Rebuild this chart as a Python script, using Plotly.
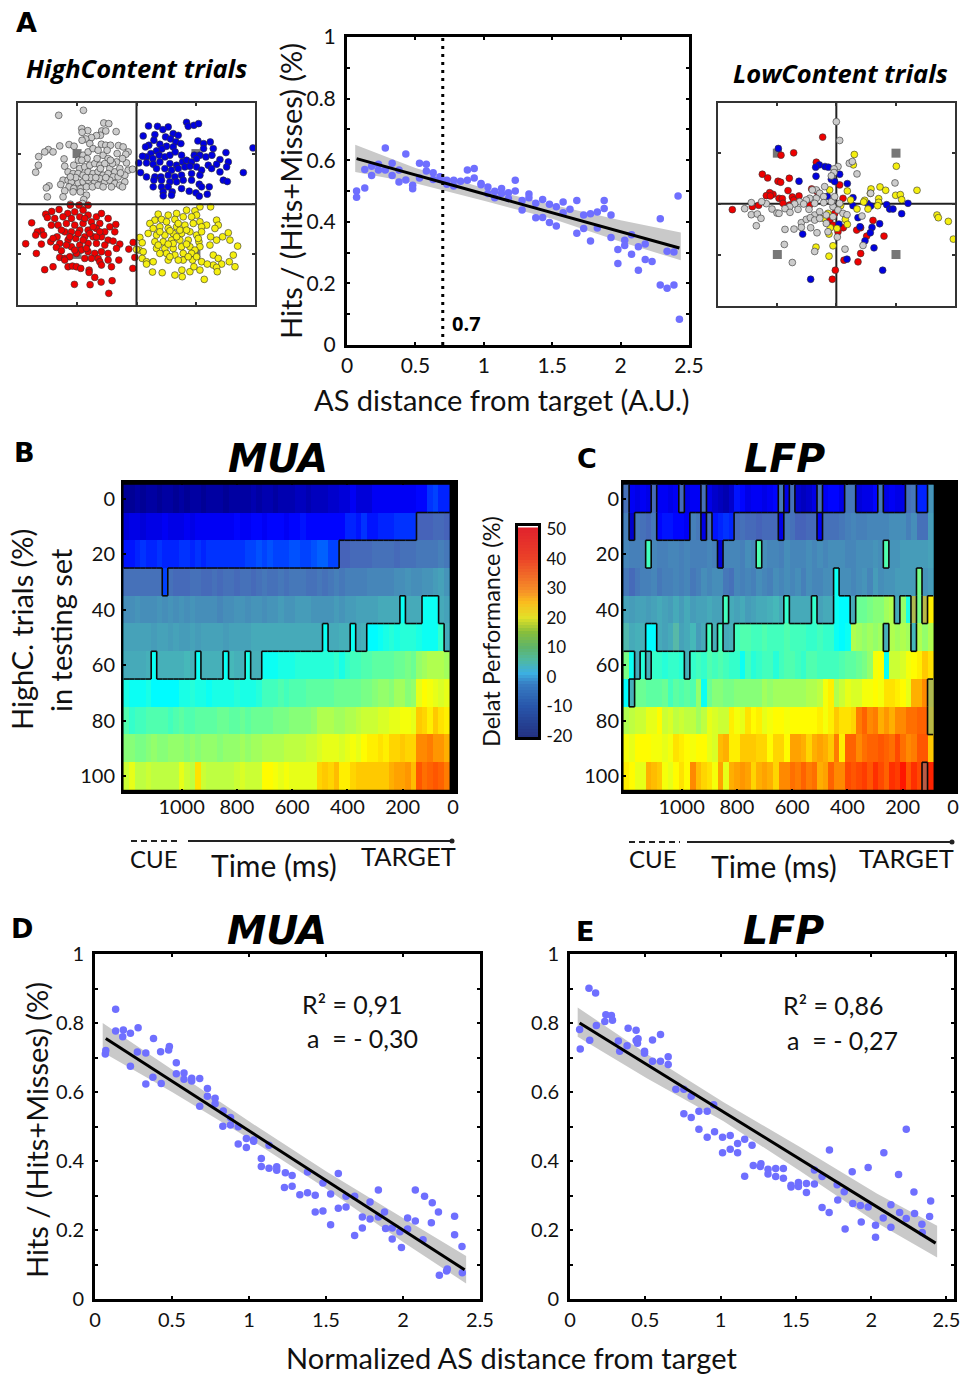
import plotly.graph_objects as go

W, H = 968, 1375
FONT = "Lato"
BLUE = "#6f6fff"
BAND = "#c9c9c9"

# ---------- panel A, cloud of points (arbitrary state-space units, cross at 410 / 492) ----------
high_gray_x = [251,177,312,327,246,264,247,306,349,318,302,290,275,258,247,270,305,318,332,356,370,180,208,223,146,160,135,117,116,108,193,195,222,236,250,265,280,295,310,325,352,385,378,350,380,240,255,270,285,300,315,330,345,360,385,398,205,220,235,250,265,280,295,310,325,340,355,375,190,205,215,235,250,265,285,300,315,330,345,360,375,183,148,140,208,222,243,260,278,295,310,335,195,190,143,220,260,252,248,212,262,292,322,338,368,228,302,332,272,212,362,318,288,246,368,242,258]
high_gray_y = [210,225,248,250,265,271,276,272,274,272,285,286,292,296,300,310,312,315,315,316,320,317,313,318,328,335,335,349,375,396,356,378,375,360,345,335,325,330,345,355,340,335,342,365,368,385,380,375,370,375,370,385,395,385,390,387,395,400,400,405,395,400,395,405,400,410,410,405,420,420,425,428,425,420,425,415,425,420,430,435,425,433,437,443,440,445,445,440,440,435,440,440,452,470,470,455,465,478,490,492,355,355,330,370,355,412,385,360,412,410,398,412,412,360,440,455,412]
high_blue_x = [560,565,582,596,446,473,505,489,430,465,520,535,497,512,528,462,447,437,480,500,520,543,594,611,631,611,640,678,759,486,470,453,440,428,459,478,495,510,526,545,583,600,618,636,660,685,650,680,417,440,460,480,510,530,548,560,575,590,625,422,440,465,470,495,515,535,555,570,590,605,635,660,730,483,505,525,545,575,600,670,682,462,460,485,510,530,550,575,628,598,605,485,505,490,517,490,515,568,588,598,622,545]
high_blue_y = [246,258,255,250,257,258,260,268,287,283,280,285,290,296,305,300,315,320,312,318,320,310,302,310,305,325,325,337,323,326,332,340,350,348,355,345,350,345,335,345,345,345,350,345,358,365,372,380,368,368,372,365,370,375,365,360,365,355,375,397,410,410,385,385,390,385,380,378,380,390,385,395,397,410,405,410,405,400,405,420,424,420,440,420,425,425,420,420,440,432,440,440,440,455,455,467,465,453,458,468,462,445]
high_red_x = [212,238,265,178,156,138,204,225,250,96,143,165,190,215,240,265,290,305,325,125,113,132,108,155,175,200,225,250,275,300,348,330,345,78,125,110,153,172,195,215,240,265,290,315,180,205,228,255,280,305,325,340,360,170,185,215,240,265,290,315,350,387,400,405,180,195,210,265,285,305,325,195,357,255,275,295,300,135,160,205,218,230,243,268,268,305,335,399,285,337,224,271,304,327,245,260,230,250,160,290,325,185,210,235,255,280,200,225,270,300]
high_red_y = [495,495,495,508,514,522,520,515,510,548,532,535,530,535,530,525,530,520,535,572,575,585,585,555,555,550,555,550,545,550,553,560,575,611,612,640,605,590,575,575,570,570,565,575,610,600,595,590,590,590,600,603,612,622,632,620,615,610,610,615,625,627,607,652,652,655,650,635,640,635,640,660,660,655,655,655,665,689,680,680,678,680,685,690,697,675,680,685,712,722,733,734,726,760,630,625,640,600,595,590,660,570,590,580,535,560,615,630,580,575]
high_yellow_x = [600,632,475,505,530,560,585,590,465,485,500,525,550,575,600,620,650,655,450,460,480,505,530,555,580,605,645,668,685,445,420,470,495,520,545,570,590,605,690,427,465,490,515,540,565,632,650,630,597,600,713,700,418,430,470,495,520,545,570,585,640,655,427,440,460,500,525,550,575,640,665,688,705,440,505,550,578,605,650,652,622,600,458,487,525,547,570,546,582,613,410,540,520,480,510,535,560,595,475,505,530,560,480,510,535,565,590]
high_yellow_y = [500,500,522,525,520,510,512,525,540,538,545,538,530,530,545,555,540,555,550,565,560,565,560,555,550,560,565,590,578,580,592,585,585,580,580,575,585,575,600,608,605,605,600,600,600,590,600,615,605,620,618,645,630,635,625,625,625,620,620,630,645,655,655,665,665,640,645,640,640,675,672,665,680,672,660,660,660,665,682,695,672,690,696,698,705,710,695,690,680,718,628,570,610,575,572,550,570,595,615,612,590,612,640,650,660,650,650]
high_target_x = [232,588,232,588]
high_target_y = [340,340,643,643]

low_red_x = [369,282,244,350,188,204,235,243,269,265,220,210,200,212,238,248,250,278,282,298,158,177,98,352,420,430,405,390,400,431,415,471,483,520,501,553,483,475,433,407,398,330,270,336]
low_red_y = [262,309,316,337,373,384,394,397,385,422,433,428,437,438,445,446,460,441,450,438,470,466,479,425,405,445,490,510,525,533,545,540,533,511,558,558,610,635,630,660,687,465,465,417]
low_blue_x = [236,359,348,376,386,349,298,395,420,405,443,383,460,460,503,513,561,570,580,625,606,475,540,481,517,512,496,523,418,309,442,549,333]
low_blue_y = [296,345,352,350,352,379,394,388,373,395,401,439,443,467,460,468,464,477,477,460,491,503,521,530,532,548,572,593,522,552,627,660,687]
low_yellow_x = [464,461,590,514,541,558,512,652,588,602,606,537,537,534,495,492,443,390,453,423,472,505,712,716,746,761,372,385,437,443,392,388,349,400,388,412]
low_yellow_y = [314,345,349,417,411,421,430,421,436,434,449,446,457,467,451,456,423,420,450,467,477,477,495,503,514,567,505,490,508,523,533,552,591,587,618,535]
low_gray_x = [410,420,449,458,415,403,403,472,395,586,513,375,350,338,360,372,350,330,320,300,285,270,256,217,200,186,155,135,155,173,184,170,232,238,271,295,312,328,345,360,380,400,415,430,442,420,395,372,345,305,320,332,345,305,283,256,333,352,385,413,487,254,278,345,436,490,405,400,360,380]
low_gray_y = [216,272,340,335,350,357,368,372,378,399,430,410,420,420,430,440,445,445,450,455,462,470,476,477,461,455,458,476,494,492,505,527,489,490,487,478,462,478,495,485,495,470,480,490,494,460,455,458,460,518,508,503,510,532,537,538,533,548,545,561,498,583,637,604,597,586,440,500,505,520]
low_target_x = [233,589,233,589]
low_target_y = [310,310,613,613]

# ---------- panel A, psychometric scatter ----------
a_x = [.07,.07,.13,.13,.18,.18,.23,.23,.28,.28,.33,.33,.38,.38,.43,.43,.48,.48,.53,.53,.58,.58,.63,.63,.68,.68,.73,.73,.78,.78,.83,.88,.88,.93,.93,.98,.98,1.03,1.03,1.08,1.08,1.13,1.13,1.18,1.18,1.23,1.23,1.28,1.28,1.33,1.33,1.38,1.38,1.43,1.43,1.48,1.48,1.53,1.53,1.58,1.58,1.63,1.68,1.68,1.73,1.73,1.78,1.78,1.83,1.83,1.88,1.88,1.93,1.93,1.98,1.98,2.03,2.03,2.08,2.08,2.13,2.13,2.18,2.18,2.23,2.29,2.29,2.34,2.34,2.39,2.39,2.42,2.43]
a_y = [.50,.48,.57,.51,.58,.55,.587,.568,.64,.568,.59,.55,.568,.529,.62,.536,.519,.507,.59,.542,.565,.587,.559,.537,.546,.537,.535,.522,.535,.516,.532,.568,.535,.573,.542,.524,.52,.513,.492,.499,.478,.508,.492,.494,.476,.535,.50,.469,.438,.49,.478,.46,.413,.472,.414,.457,.398,.449,.386,.464,.429,.441,.469,.363,.422,.378,.426,.338,.432,.38,.469,.443,.422,.349,.31,.265,.34,.323,.358,.295,.319,.243,.328,.278,.271,.41,.195,.304,.184,.302,.195,.484,.084]
a_fit_x = [.07,2.43]
a_fit_y = [.605,.315]
a_band_x = [.06,.5,1,1.5,2,2.44]
a_band_hi = [.65,.575,.51,.455,.405,.365]
a_band_lo = [.562,.525,.468,.41,.335,.275]
a_threshold = 0.7

# ---------- panel D ----------
d_x = [.067,.07,.134,.134,.184,.18,.23,.23,.28,.275,.33,.33,.38,.376,.426,.43,.478,.483,.528,.528,.578,.578,.628,.628,.68,.68,.73,.73,.78,.78,.83,.833,.88,.88,.93,.93,.983,.983,1.03,1.03,1.08,1.08,1.13,1.13,1.18,1.18,1.23,1.236,1.28,1.28,1.33,1.38,1.38,1.43,1.43,1.48,1.48,1.53,1.53,1.58,1.58,1.63,1.63,1.686,1.686,1.736,1.736,1.786,1.786,1.84,1.84,1.88,1.887,1.93,1.93,1.98,1.99,2.03,2.03,2.08,2.08,2.13,2.14,2.184,2.19,2.23,2.236,2.283,2.288,2.335,2.335,2.383,2.385]
d_y = [.71,.72,.84,.777,.78,.76,.77,.675,.786,.716,.713,.623,.755,.643,.717,.625,.722,.732,.685,.653,.655,.637,.64,.632,.639,.559,.61,.588,.582,.566,.501,.545,.504,.526,.499,.449,.465,.439,.461,.457,.407,.384,.446,.379,.383,.373,.323,.366,.358,.327,.302,.368,.308,.301,.252,.336,.255,.304,.215,.364,.263,.298,.267,.298,.184,.238,.206,.281,.232,.316,.238,.252,.204,.206,.174,.195,.149,.235,.203,.316,.226,.172,.298,.221,.279,.252,.069,.081,.087,.24,.186,.152,.076]
d_fit_x = [.07,2.4]
d_fit_y = [.755,.085]
d_band_x = [.05,.5,1,1.5,2,2.41]
d_band_hi = [.80,.665,.515,.37,.235,.125]
d_band_lo = [.715,.60,.465,.32,.165,.045]

# ---------- panel E ----------
e_x = [.064,.068,.126,.131,.17,.175,.231,.238,.275,.282,.321,.33,.379,.386,.439,.439,.448,.452,.495,.495,.548,.548,.601,.601,.652,.652,.703,.756,.756,.805,.805,.856,.856,.911,.911,.954,.96,1.013,1.013,1.064,1.064,1.113,1.113,1.16,1.16,1.209,1.217,1.264,1.268,1.315,1.315,1.366,1.366,1.417,1.417,1.468,1.468,1.517,1.517,1.57,1.57,1.623,1.623,1.674,1.674,1.723,1.721,1.774,1.778,1.821,1.827,1.874,1.878,1.929,1.934,1.98,1.98,2.029,2.029,2.084,2.08,2.131,2.131,2.182,2.189,2.233,2.233,2.284,2.288,2.337,2.339,2.388,2.395]
e_y = [.781,.725,.901,.75,.887,.793,.804,.824,.822,.808,.748,.718,.734,.785,.779,.749,.741,.754,.718,.712,.751,.689,.767,.689,.702,.68,.608,.608,.537,.588,.526,.544,.492,.544,.469,.563,.485,.469,.424,.474,.434,.451,.424,.463,.356,.446,.387,.384,.392,.376,.362,.378,.355,.378,.35,.33,.325,.338,.326,.335,.309,.374,.333,.355,.265,.432,.251,.331,.287,.311,.203,.369,.277,.271,.223,.381,.267,.214,.179,.424,.235,.273,.208,.361,.251,.492,.233,.31,.248,.217,.193,.239,.284]
e_fit_x = [.064,2.428]
e_fit_y = [.80,.162]
e_band_x = [.051,.51,1.02,1.53,2.04,2.438]
e_band_hi = [.845,.71,.57,.44,.305,.212]
e_band_lo = [.76,.64,.515,.37,.22,.12]

# ---------- heatmaps ----------
pct_rows = [0,10,20,30,40,50,60,70,80,90,100]
mua_time = [1200 - 20*i for i in range(59)]
lfp_time = [1200 - 20*i for i in range(56)]

mua_values = [
 [-19,-19,-18,-19,-18,-18,-19,-18,-18,-19,-18,-19,-18,-18,-19,-18,-18,-18,-19,-18,-18,-18,-18,-17,-18,-17,-17,-18,-17,-17,-17,-16,-16,-17,-16,-16,-16,-15,-15,-14,-14,-12,-14,-14,-14,-12,-12,-12,-12,-12,-12,-12,-12,-11,-11,-8,-7,-9,-9],
 [-14,-13,-13,-14,-13,-13,-13,-12,-13,-13,-13,-12,-13,-12,-12,-12,-12,-12,-12,-12,-11,-12,-12,-11,-11,-12,-11,-11,-11,-12,-11,-11,-10,-11,-11,-11,-11,-11,-11,-11,-9,-9,-10,-8,-10,-10,-9,-9,-9,-8,-8,-8,-8,-7,-7,-7,-6,-6,-7],
 [-10,-10,-9,-8,-9,-9,-8,-9,-9,-9,-8,-8,-9,-8,-9,-8,-8,-8,-8,-8,-8,-8,-7,-7,-6,-7,-6,-7,-7,-7,-6,-6,-7,-7,-6,-5,-5,-7,-7,-7,-7,-6,-6,-6,-6,-5,-5,-5,-5,-6,-5,-5,-5,-4,-4,-4,-4,-3,-4],
 [-5,-5,-5,-5,-5,-5,-5,-7,-5,-6,-6,-6,-5,-5,-6,-6,-5,-6,-5,-5,-6,-5,-5,-6,-5,-4,-5,-5,-4,-5,-4,-4,-4,-5,-5,-4,-5,-4,-3,-4,-3,-3,-3,-3,-2,-2,-2,-2,-2,-1,-1,0,-1,-1,0,0,1,2,0],
 [-1,-1,0,-1,-1,-1,0,-1,0,-1,0,-1,0,-1,-1,-1,-1,-2,-1,-1,0,0,-1,0,0,-1,0,0,1,0,0,1,1,1,0,0,0,0,1,0,1,1,2,2,2,2,3,3,3,3,6,3,3,3,6,6,6,3,2],
 [2,2,2,2,2,1,2,2,1,2,1,1,2,1,2,2,2,2,1,2,2,2,2,3,3,3,3,3,3,3,3,3,3,3,3,3,6,3,3,4,4,6,3,4,5,5,6,7,8,7,8,8,8,7,6,6,6,9,3],
 [3,3,3,3,4,6,4,4,4,4,4,5,4,6,4,4,4,4,6,5,4,4,7,4,4,6,6,6,7,7,7,8,8,8,8,8,8,8,9,7,9,10,10,11,11,12,12,12,12,13,13,14,13,16,17,18,18,18,17],
 [7,6,6,6,7,5,5,5,5,5,7,7,8,7,7,6,7,7,7,7,8,7,7,7,8,10,10,10,11,10,11,11,11,12,12,12,12,12,13,13,13,13,13,14,14,15,16,16,15,17,17,15,16,22,24,23,22,21,22],
 [11,9,10,10,11,11,11,11,10,11,12,11,11,12,12,12,12,13,13,12,12,13,12,13,13,13,13,14,14,14,15,15,15,15,16,18,18,18,17,17,18,18,19,20,20,20,21,21,22,22,23,23,22,28,27,25,28,26,25],
 [15,15,14,14,15,16,15,15,16,16,16,15,16,15,16,16,16,15,16,16,16,17,16,17,17,18,18,18,18,19,19,19,19,20,20,21,22,22,22,21,22,23,22,24,25,25,26,25,27,27,28,27,27,33,33,34,32,32,30],
 [20,22,19,19,20,19,19,19,19,19,22,20,19,26,20,19,19,19,19,19,20,21,20,20,20,24,24,23,22,23,22,22,22,22,22,27,28,27,29,25,25,27,28,28,28,28,28,28,30,31,31,32,29,37,35,36,37,36,34],
]
# non-significant (washed out) cells per row, as inclusive column spans
mua_ns_spans = [
 [],
 [(53,58)],
 [(39,58)],
 [(0,6),(8,58)],
 [(0,49),(51,53),(57,58)],
 [(0,35),(37,40),(42,43),(58,58)],
 [(0,4),(6,12),(14,17),(19,21),(23,24)],
 [], [], [], [],
]

lfp_values = [
 [-5,-12,-13,-12,-13,-6,-12,-12,-13,-12,-6,-13,-12,-12,-5,-13,-15,-16,-17,-15,-10,-11,-13,-12,-12,-13,-12,-11,-4,-13,-5,-15,-16,-15,-13,-5,-12,-11,-11,-13,-4,-4,-14,-13,-13,-11,-4,-13,-12,-13,-13,-5,-4,-9,-9,0],
 [-3,-15,-4,-5,-6,-4,-11,-10,-10,-11,-11,-12,-3,-4,-13,-5,-10,-9,-8,-9,-6,-5,-6,-6,-7,-6,-6,-6,-13,-4,-5,-7,-7,-6,-6,-12,-5,-5,-5,-4,-3,-2,-3,-3,-2,-2,-2,-2,-1,-1,-1,-3,-1,-5,-5,1],
 [-2,-3,-3,-3,10,-2,-3,-3,-2,-2,-3,-2,-3,-3,-3,-2,-3,-14,-2,-2,-2,-3,-1,-2,11,-1,-2,-2,-3,-1,-2,-2,-2,-1,-2,-1,-2,-1,-1,-1,-2,-2,-1,-1,-1,0,-1,11,0,0,1,1,1,1,1,2],
 [-4,-6,-4,-3,-3,-2,-4,-3,-3,-2,-3,-2,-4,-3,-1,-2,-1,-1,-4,-5,-2,-3,-2,-3,-1,-2,-3,-1,-2,-1,-2,-1,-3,-1,-2,-2,-1,-1,6,-1,-1,-2,-1,0,-2,1,-1,0,0,1,1,1,1,14,0,1],
 [2,1,2,2,1,2,3,2,1,3,1,3,1,2,2,3,2,2,10,3,2,3,1,2,3,3,4,5,3,9,3,3,3,3,9,2,3,3,6,5,5,3,13,13,14,15,15,17,18,3,16,7,22,14,24,25],
 [7,3,4,4,5,5,3,2,3,8,2,3,5,1,3,10,4,10,3,4,10,11,11,10,10,11,10,10,10,11,10,10,10,9,9,10,9,9,6,5,6,18,17,16,17,16,17,4,18,17,18,17,5,18,16,18],
 [14,6,3,8,4,9,9,8,9,9,8,4,9,10,9,11,10,11,10,9,9,6,10,8,9,10,10,8,10,11,11,10,9,11,11,10,10,10,10,11,12,12,13,14,16,23,24,6,20,20,21,23,24,25,28,26],
 [5,4,13,13,12,12,12,13,10,12,11,12,11,16,6,13,15,15,14,14,15,15,15,15,15,17,16,17,17,17,17,17,17,18,18,19,23,25,18,20,22,21,21,23,23,24,23,26,26,25,24,22,30,30,33,22],
 [18,19,20,20,22,22,24,20,21,19,20,19,19,17,19,22,21,20,20,25,23,22,26,24,25,22,23,24,24,23,24,24,24,24,24,25,23,25,28,26,26,27,34,36,33,34,30,32,30,33,33,35,35,36,36,24],
 [23,22,24,24,24,23,23,22,23,26,25,24,23,24,24,22,21,29,30,25,25,28,28,28,27,27,24,27,27,24,31,31,30,27,30,31,30,28,34,25,36,36,33,35,36,36,37,36,35,38,35,33,34,37,37,28],
 [25,24,22,22,30,29,28,23,22,24,26,24,33,29,27,26,23,31,22,30,31,32,31,27,30,31,30,27,33,33,35,34,36,34,35,30,31,36,33,33,38,37,38,39,37,40,38,36,40,39,42,37,40,38,40,41],
]
lfp_ns_spans = [
 [(0,0),(5,5),(10,10),(14,14),(28,28),(30,30),(35,35),(40,41),(46,46),(51,52),(55,55)],
 [(0,0),(2,5),(12,13),(15,15),(20,27),(29,34),(36,55)],
 [(0,3),(5,16),(18,23),(25,46),(48,55)],
 [(0,37),(39,52),(54,55)],
 [(0,17),(19,28),(30,33),(35,37),(41,41),(49,49),(52,52),(54,54)],
 [(0,3),(6,14),(16,16),(18,19),(47,47),(52,52)],
 [(2,2),(4,4),(11,11)],
 [(1,1),(55,55)],
 [(55,55)],
 [],
 [(54,54)],
]

colorbar_values = list(range(-20, 51))
colorbar_ticks = [50,40,30,20,10,0,-10,-20]

JET = [[0,"rgb(0,0,135)"],[.125,"rgb(0,0,255)"],[.36,"rgb(0,255,255)"],[.625,"rgb(255,255,0)"],[.91,"rgb(255,0,0)"],[1,"rgb(128,0,0)"]]
BAR = [[0,"rgb(35,50,130)"],[.14,"rgb(40,85,170)"],[.25,"rgb(55,125,195)"],[.30,"rgb(60,175,225)"],[.37,"rgb(80,185,160)"],[.43,"rgb(95,180,105)"],[.5,"rgb(135,190,60)"],[.57,"rgb(225,225,40)"],[.64,"rgb(250,190,30)"],[.71,"rgb(245,140,40)"],[.86,"rgb(235,65,40)"],[1,"rgb(225,35,45)"]]

fig = go.Figure()

def add_axes(n, box, xr, yr, xt=None, yt=None, xl=None, yl=None, size=20, lw=2, col="black", tick_len=3, ytick_side="left", xstand=4, ystand=4):
    l, r, t, b = box
    sx = "" if n == 1 else str(n)
    common = dict(showgrid=False, zeroline=False, showline=True, mirror="allticks", linewidth=lw, linecolor=col, automargin=False,
                  ticks="inside", ticklen=tick_len, tickwidth=2, tickcolor=col,
                  tickfont=dict(family=FONT, size=size, color="#111"), layer="above traces")
    fig.layout["xaxis"+sx] = dict(domain=[l/W, r/W], range=xr, anchor="y"+sx, tickmode="array", tickvals=xt or [], ticklabelstandoff=xstand,
                                  ticktext=xl if xl is not None else ["" for _ in (xt or [])], **common)
    fig.layout["yaxis"+sx] = dict(domain=[1-b/H, 1-t/H], range=yr, anchor="x"+sx, tickmode="array", tickvals=yt or [], ticklabelstandoff=ystand,
                                  ticktext=yl if yl is not None else ["" for _ in (yt or [])], side=ytick_side, **common)
    return "x"+sx, "y"+sx

def pts(xa, ya, x, y, fill, size=6.8, line="#333", lw=0.6, symbol="circle"):
    fig.add_trace(go.Scatter(x=x, y=y, mode="markers", xaxis=xa, yaxis=ya, showlegend=False, hoverinfo="skip",
                             marker=dict(color=fill, size=size, symbol=symbol, line=dict(color=line, width=lw))))

def cross(xa, ya, cx, cy, xr, yr):
    fig.add_trace(go.Scatter(x=[xr[0], xr[1], None, cx, cx], y=[cy, cy, None, yr[0], yr[1]], mode="lines", xaxis=xa, yaxis=ya,
                             showlegend=False, hoverinfo="skip", line=dict(color="#222", width=2)))

# ---- cloud panels
rx, ry = [55,765], [795,188]
xa, ya = add_axes(1, (18,255,103,305), rx, ry, [232,410,588], [340,492,643], col="#333")
pts(xa, ya, high_target_x, high_target_y, "#777777", size=9, lw=0, symbol="square")
pts(xa, ya, high_gray_x, high_gray_y, "#cccccc")
pts(xa, ya, high_blue_x, high_blue_y, "#0000e0")
pts(xa, ya, high_red_x, high_red_y, "#ee0000")
pts(xa, ya, high_yellow_x, high_yellow_y, "#f5ef10")
cross(xa, ya, 410, 492, rx, ry)

rx, ry = [55,766], [767,160]
xa, ya = add_axes(2, (718,955,103,306), rx, ry, [233,410,589], [310,461,613], col="#333")
pts(xa, ya, low_target_x, low_target_y, "#777777", size=9, lw=0, symbol="square")
cross(xa, ya, 410, 461, rx, ry)
pts(xa, ya, low_red_x, low_red_y, "#ee0000")
pts(xa, ya, low_blue_x, low_blue_y, "#0000e0")
pts(xa, ya, low_yellow_x, low_yellow_y, "#f5ef10")
pts(xa, ya, low_gray_x, low_gray_y, "#cccccc")

# ---- regression panels
def regression(n, box, x, y, fx, fy, bx, bhi, blo, size=20, xr=2.5, xstand=1):
    vals = [round(i*0.1, 1) for i in range(11)]
    labs = ["0","","0.2","","0.4","","0.6","","0.8","","1"]
    xa, ya = add_axes(n, box, [0,xr], [0,1], [0,.5,1,1.5,2,2.5], vals, ["0","0.5","1","1.5","2","2.5"], labs, size=size, lw=3, xstand=xstand)
    fig.add_trace(go.Scatter(x=bx+bx[::-1], y=bhi+blo[::-1], fill="toself", fillcolor=BAND, mode="none",
                             xaxis=xa, yaxis=ya, showlegend=False, hoverinfo="skip"))
    pts(xa, ya, x, y, BLUE, size=7.5, lw=0)
    fig.add_trace(go.Scatter(x=fx, y=fy, mode="lines", xaxis=xa, yaxis=ya, showlegend=False, hoverinfo="skip",
                             line=dict(color="black", width=3)))
    return xa, ya

xa, ya = regression(3, (347,689,37,345), a_x, a_y, a_fit_x, a_fit_y, a_band_x, a_band_hi, a_band_lo, size=21, xstand=0)
fig.add_trace(go.Scatter(x=[a_threshold, a_threshold], y=[0,1], mode="lines", xaxis=xa, yaxis=ya, showlegend=False, hoverinfo="skip",
                         line=dict(color="black", width=3, dash="3px 5px")))
regression(4, (95,480,954,1299), d_x, d_y, d_fit_x, d_fit_y, d_band_x, d_band_hi, d_band_lo, size=20)
regression(5, (570,954,954,1299), e_x, e_y, e_fit_x, e_fit_y, e_band_x, e_band_hi, e_band_lo, size=20, xr=2.55)

# ---- heat panels
def ns_matrix(spans, ncol):
    m = [[None]*ncol for _ in spans]
    for r, row in enumerate(spans):
        for a, b in row:
            for c in range(a, b+1):
                m[r][c] = 1
    return m

def contour(m, times, rows):
    """outline of the non-significant region, along cell edges"""
    xs, ys = [], []
    nr, nc = len(m), len(m[0])
    for r in range(nr):
        for c in range(nc):
            here = m[r][c] is not None
            if c+1 < nc and here != (m[r][c+1] is not None):
                e = times[c] - 10
                xs += [e, e, None]; ys += [rows[r]-5, rows[r]+5, None]
            if r+1 < nr and here != (m[r+1][c] is not None):
                xs += [times[c]+10, times[c]-10, None]; ys += [rows[r]+5, rows[r]+5, None]
    return xs, ys

def heat(n, box, times, values, spans, ystand):
    ticks = [1000,800,600,400,200,18]
    labs = ["1000","800","600","400","200","0"]
    xa, ya = add_axes(n, box, [1212,7], [105.7,-6], ticks, [0,20,40,60,80,100], labs, ["0","20","40","60","80","100"], size=20, xstand=-4, ystand=ystand)
    fig.add_trace(go.Heatmap(x=times, y=pct_rows, z=values, zmin=-20, zmax=50, colorscale=JET, showscale=False,
                             xaxis=xa, yaxis=ya, hoverinfo="skip"))
    m = ns_matrix(spans, len(times))
    fig.add_trace(go.Heatmap(x=times, y=pct_rows, z=m, zmin=0, zmax=1, showscale=False, xaxis=xa, yaxis=ya, hoverinfo="skip",
                             colorscale=[[0,"rgba(128,128,128,0.55)"],[1,"rgba(128,128,128,0.55)"]]))
    xs, ys = contour(m, times, pct_rows)
    fig.add_trace(go.Scatter(x=xs, y=ys, mode="lines", xaxis=xa, yaxis=ya, showlegend=False, hoverinfo="skip",
                             line=dict(color="#0a0a0a", width=1.6)))
    return xa, ya

heat(6, (123,456,482,792), mua_time, mua_values, mua_ns_spans, 2)
heat(7, (623,956,482,792), lfp_time, lfp_values, lfp_ns_spans, -2)

# ---- colour bar
xa, ya = add_axes(8, (518,538,526,737), [0,1], [-20.3,51], None, colorbar_ticks, None, [str(v) for v in colorbar_ticks], size=17, lw=3, tick_len=0, ytick_side="right", ystand=2)
fig.add_trace(go.Heatmap(x=[0,1], y=colorbar_values, z=[[v,v] for v in colorbar_values], zmin=-20, zmax=50, colorscale=BAR,
                         showscale=False, xaxis=xa, yaxis=ya, hoverinfo="skip"))

# ---- black background behind the heat panels
layout_shapes = []
for box in [(123,456,482,792),(623,956,482,792)]:
    l, r, t, b = box
    layout_shapes.append(dict(type="rect", xref="paper", yref="paper", x0=l/W, x1=r/W, y0=1-b/H, y1=1-t/H,
                              fillcolor="black", line_width=0, layer="below"))

def seg(x0, x1, y, dash="solid", w=2):
    layout_shapes.append(dict(type="line", xref="paper", yref="paper", x0=x0/W, x1=x1/W, y0=1-y/H, y1=1-y/H,
                              line=dict(color="#222", width=w, dash=dash)))
def dot(x, y, r=2.5):
    layout_shapes.append(dict(type="circle", xref="paper", yref="paper", x0=(x-r)/W, x1=(x+r)/W, y0=1-(y+r)/H, y1=1-(y-r)/H,
                              fillcolor="#222", line_width=0))
seg(131,181,841,"6px 4px"); seg(188,452,841); dot(452,841)
seg(629,680,842,"6px 4px"); seg(687,952,842); dot(952,842)

fig.update_layout(shapes=layout_shapes)

anns = []
def T(text, x, y, size, family=FONT, bold=False, italic=False, rot=0, color="#111"):
    anns.append(dict(text=text, xref="paper", yref="paper", x=x/W, y=1-y/H, xanchor="center", yanchor="middle", showarrow=False,
                     textangle=rot, font=dict(family=family, size=size, color=color, weight="bold" if bold else "normal",
                                              style="italic" if italic else "normal")))

D = "DejaVu Sans"
O = "Open Sans"
for s, x, y in [("A",26,23),("B",24,452),("C",587,458),("D",22,928),("E",585,932)]:
    T(s, x, y, 27, D, bold=True, color="black")
for s, x, y in [("MUA",278,458),("LFP",784,458),("MUA",277,930),("LFP",783,930)]:
    T(s, x, y, 39.5, D, bold=True, italic=True, color="black")
T("HighContent trials", 136, 68, 25.5, O, bold=True, italic=True, color="black")
T("LowContent trials", 840, 73, 25.5, O, bold=True, italic=True, color="black")
T("Hits / (Hits+Misses) (%)", 291, 191, 29, rot=-90)
T("AS distance from target (A.U.)", 502, 399, 29)
T("0.7", 466, 323, 20, O, bold=True, color="black")
T("Hits / (Hits+Misses) (%)", 36, 1130, 29, rot=-90)
T("Normalized AS distance from target", 511, 1357, 29)
T("R² = 0,91", 352, 1004, 25); T("a  = - 0,30", 362, 1038, 25)
T("R² = 0,86", 833, 1005, 25); T("a  = - 0,27", 842, 1040, 25)
T("HighC. trials (%)", 21, 630, 29, rot=-90)
T("in testing set", 60, 630, 29, rot=-90)
T("Delat Performance (%)", 491, 632, 23.5, rot=-90)
T("CUE", 154, 858, 24); T("TARGET", 408, 856, 25.5); T("Time (ms)", 274, 865, 30)
T("CUE", 653, 858, 24); T("TARGET", 906, 858, 25.5); T("Time (ms)", 774, 866, 30)

fig.update_layout(width=W, height=H, margin=dict(l=0,r=0,t=0,b=0), autosize=False, showlegend=False,
                  paper_bgcolor="white", plot_bgcolor="rgba(0,0,0,0)", annotations=anns)

fig.write_html("out.html", post_script="document.body.style.margin='0';", config={"displayModeBar": False})
